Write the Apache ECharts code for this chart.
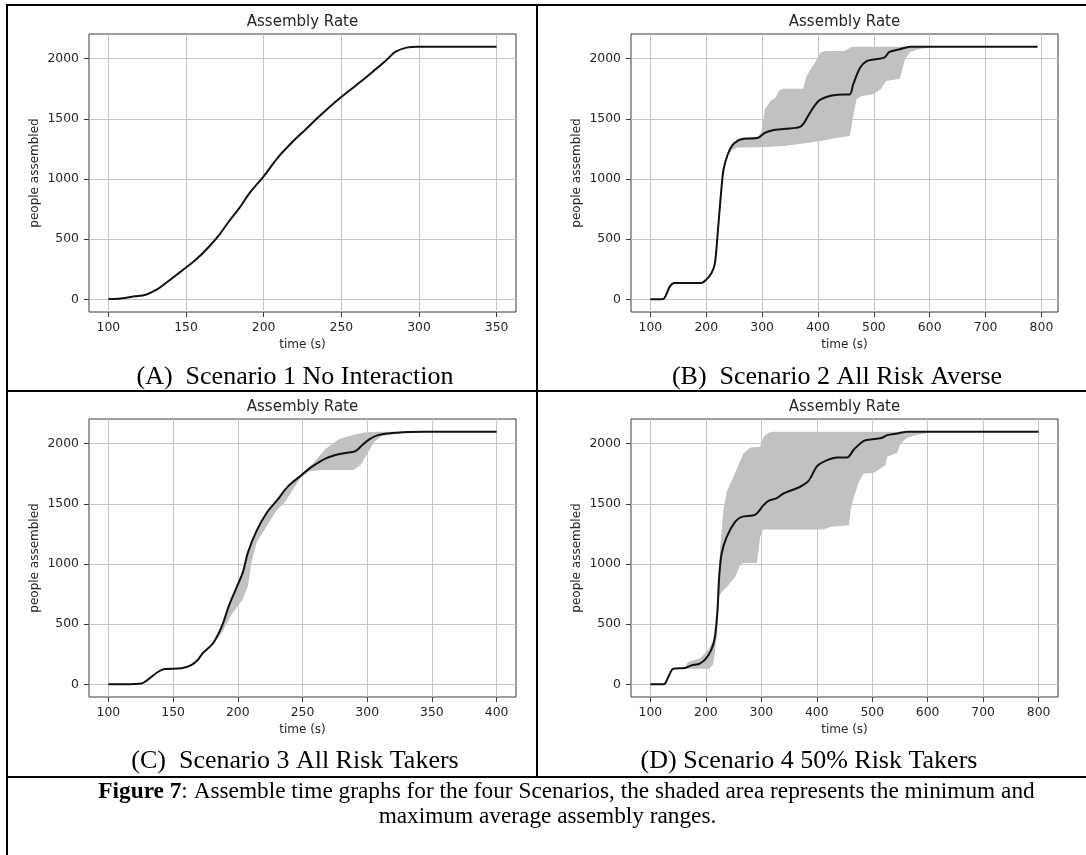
<!DOCTYPE html>
<html>
<head>
<meta charset="utf-8">
<title>Assembly Rate</title>
<script src="https://cdn.jsdelivr.net/npm/echarts@6.0.0/dist/echarts.min.js"></script>
<style>
  html, body { margin: 0; padding: 0; background: #ffffff; }
  #chart { width: 1086px; height: 855px; }
</style>
</head>
<body>
<div id="chart"></div>
<script>
// ---- tick labels ----
const ticksA = [100, 150, 200, 250, 300, 350];
const ticksB = [100, 200, 300, 400, 500, 600, 700, 800];
const ticksC = [100, 150, 200, 250, 300, 350, 400];
const ticksD = [100, 200, 300, 400, 500, 600, 700, 800];
const ticksY = [0, 500, 1000, 1500, 2000];

// ---- Scenario 1: No Interaction (time s, people assembled) ----
const meanA = [[100,3],[108,8],[117,25],[124,39],[131,80],[137,136],[144,205],[151,275],[157.5,344],[164,427],[171,530],[177.7,649],[184.4,760],[191,885],[200.5,1030],[209,1176],[218,1301],[227,1412],[236,1523],[245,1628],[254,1723],[263,1814],[272,1911],[278.4,1981],[285,2058],[292,2092],[299,2100],[350,2100]];

// ---- Scenario 2: All Risk Averse ----
const meanB = [[100,0],[123,3],[127,25],[135,108],[143,136],[191,136],[200,164],[209.5,219],[215.6,302],[220.6,552],[226,857],[231,1079],[238.5,1204],[246.6,1279],[257,1320],[268,1334],[293,1343],[305,1384],[318,1404],[342,1417],[367,1431],[374.6,1462],[385.7,1551],[401,1648],[416.6,1684],[435,1700],[456.8,1703],[463,1786],[475.4,1925],[487.8,1981],[500,1994],[518.7,2008],[528,2056],[546.5,2078],[565,2100],[793,2100]];
const upperB = [[100,0],[123,3],[127,25],[135,108],[143,136],[191,136],[200,164],[209.5,219],[215.6,302],[220.6,552],[226,857],[231,1079],[238.5,1210],[246.6,1295],[256,1335],[270,1350],[293,1351],[299,1398],[305,1578],[314.6,1648],[324,1676],[330,1731],[336,1750],[373.4,1750],[379.5,1856],[388.8,1925],[398,1994],[404.3,2050],[413.5,2064],[447.5,2064],[460,2097],[470,2100],[793,2100]];
const lowerB = [[100,0],[123,3],[127,25],[135,108],[143,136],[191,136],[200,164],[209.5,219],[215.6,302],[220.6,552],[226,857],[231,1079],[238.5,1195],[246.6,1245],[256,1262],[300,1265],[340,1275],[373,1295],[404,1315],[435,1343],[456.8,1358],[463,1523],[469,1662],[478.5,1690],[497,1703],[512.5,1745],[522,1814],[546.5,1834],[555.8,1995],[565,2056],[583.6,2083],[608.4,2097],[620,2100],[793,2100]];

// ---- Scenario 3: All Risk Takers ----
const meanC = [[100,0],[125.6,8],[130.8,42],[138.5,105],[143.6,127],[156.4,133],[164,160],[169,202],[173,261],[181,344],[187.7,483],[193,650],[198.4,789],[203.8,928],[207.8,1095],[214.5,1275],[222.5,1428],[230.6,1533],[238.6,1643],[249.3,1740],[257.4,1809],[268.1,1878],[278.8,1914],[289.5,1933],[292.2,1947],[296.2,1989],[301.6,2036],[308.3,2071],[316.4,2085],[332.4,2096],[345,2100],[400,2100]];
const upperC = [[100,0],[125.6,8],[130.8,42],[138.5,105],[143.6,127],[156.4,133],[164,160],[169,202],[173,261],[181,344],[187.7,483],[193,650],[198.4,789],[203.8,928],[207.8,1095],[214.5,1275],[222.5,1428],[230.6,1533],[238.6,1643],[249.3,1745],[257.4,1830],[268.1,1960],[278.8,2040],[289.5,2075],[297.6,2092],[310,2100],[400,2100]];
const lowerC = [[100,0],[125.6,8],[130.8,42],[138.5,105],[143.6,127],[156.4,133],[164,160],[169,202],[173,255],[181,330],[187.7,428],[194.4,567],[203.8,706],[207.8,817],[210.5,1011],[214.5,1178],[222.5,1317],[230.6,1456],[235.9,1505],[244,1643],[249.3,1726],[254.7,1768],[262.7,1781],[289.5,1781],[294.9,1823],[300.3,1920],[305.6,2016],[311,2063],[324.4,2085],[337.8,2094],[350,2100],[400,2100]];

// ---- Scenario 4: 50% Risk Takers ----
const meanD = [[100,0],[120,0],[126,5],[135,89],[141,130],[162,136],[174,158],[189,172],[200,214],[210,288],[216.5,394],[221,616],[224,893],[228.5,1087],[237.6,1226],[252.7,1350],[264.8,1392],[289,1411],[304,1489],[313,1525],[327,1545],[340,1586],[370,1642],[385.5,1692],[400.6,1813],[418.7,1863],[436.8,1886],[454.9,1886],[467,1952],[485,2024],[503,2038],[518,2049],[527,2071],[545,2085],[563.6,2100],[800,2100]];
const upperD = [[100,0],[120,0],[126,5],[135,89],[141,130],[162,140],[168,186],[189,214],[204,283],[213,366],[219.5,616],[225.5,1115],[231.6,1448],[237.6,1600],[249.7,1725],[258.8,1822],[267.8,1919],[280,1969],[298,1974],[304,2058],[313,2091],[322,2100],[800,2100]];
const lowerD = [[100,0],[120,0],[126,5],[135,89],[141,128],[171,130],[207,130],[213.5,172],[219.5,394],[224,727],[228.6,768],[237.6,810],[252.7,893],[261.8,990],[266.6,1009],[292,1009],[298,1226],[303,1287],[412.7,1287],[424.7,1309],[458,1323],[461,1448],[467,1559],[476,1683],[485,1753],[503,1758],[512,1786],[524,1822],[527,1891],[545,1924],[550,1988],[560.6,2044],[570,2058],[588,2080],[600,2091],[610,2100],[800,2100]];

// ---- text ----
const plotTitle = 'Assembly Rate';
const xName = 'time (s)';
const yName = 'people assembled';
const captions = ['(A)\u00a0 Scenario 1 No Interaction', '(B)\u00a0 Scenario 2 All Risk Averse', '(C)\u00a0 Scenario 3 All Risk Takers', '(D) Scenario 4 50% Risk Takers'];
const figLabel = 'Figure 7';
const figText1 = ': Assemble time graphs for the four Scenarios, the shaded area represents the minimum and';
const figText2 = 'maximum average assembly ranges.';

// panel layout: plot rectangles in pixels, x extents padded like the plotting tool
const panels = [
  { left: 89,  top: 34,  xMin: 87.5,  xMax: 362.5,  ticks: ticksA, mean: meanA, upper: null,   lower: null,   capX: 295, capY: 377 },
  { left: 631, top: 34,  xMin: 65.35, xMax: 829.65, ticks: ticksB, mean: meanB, upper: upperB, lower: lowerB, capX: 837, capY: 377 },
  { left: 89,  top: 419, xMin: 85,    xMax: 415,    ticks: ticksC, mean: meanC, upper: upperC, lower: lowerC, capX: 295, capY: 761 },
  { left: 631, top: 419, xMin: 65,    xMax: 835,    ticks: ticksD, mean: meanD, upper: upperD, lower: lowerD, capX: 809, capY: 761 }
];
const PW = 427, PH = 278;
const Y_MIN = -105, Y_MAX = 2205;

const tickFont = 'DejaVu Sans';
const inkColor = '#262626';
const plainNumber = function (v) { return String(v); };

const grids = [], xAxes = [], yAxes = [], series = [], graphics = [];

panels.forEach(function (p, i) {
  grids.push({
    left: p.left, top: p.top, width: PW, height: PH,
    show: true, borderColor: '#3a3a3a', borderWidth: 1, backgroundColor: 'transparent',
    containLabel: false
  });
  xAxes.push({
    type: 'value', gridIndex: i, min: p.xMin, max: p.xMax,
    axisLine: { show: false, onZero: false },
    axisTick: { show: true, length: 5, customValues: p.ticks, lineStyle: { color: '#3a3a3a', width: 1 } },
    axisLabel: { customValues: p.ticks, formatter: plainNumber, margin: 10, fontSize: 12.4, fontFamily: tickFont, color: inkColor },
    splitLine: { show: true, lineStyle: { color: '#c6c6c6', width: 1 } }
  });
  yAxes.push({
    type: 'value', gridIndex: i, min: Y_MIN, max: Y_MAX,
    axisLine: { show: false, onZero: false },
    axisTick: { show: true, length: 5, customValues: ticksY, lineStyle: { color: '#3a3a3a', width: 1 } },
    axisLabel: { customValues: ticksY, formatter: plainNumber, margin: 10, fontSize: 12.4, fontFamily: tickFont, color: inkColor },
    splitLine: { show: true, lineStyle: { color: '#c6c6c6', width: 1 } }
  });

  if (p.upper && p.lower) {
    const up = p.upper, lo = p.lower;
    series.push({
      type: 'custom', xAxisIndex: i, yAxisIndex: i, silent: true, z: 2, clip: true,
      data: [[up[0][0], up[0][1]]],
      renderItem: function (params, api) {
        const pts = up.map(function (d) { return api.coord(d); })
          .concat(lo.slice().reverse().map(function (d) { return api.coord(d); }));
        return { type: 'polygon', shape: { points: pts }, style: { fill: '#c1c1c1', stroke: null } };
      }
    });
  }
  series.push({
    type: 'line', xAxisIndex: i, yAxisIndex: i, data: p.mean,
    showSymbol: false, smooth: 0.3, silent: true, z: 3,
    lineStyle: { color: '#111111', width: 2 }
  });

  const cx = p.left + PW / 2, cy = p.top + PH / 2;
  graphics.push({ type: 'text', x: cx, y: p.top - 12, silent: true,
    style: { text: plotTitle, font: '15px "DejaVu Sans"', fill: inkColor, align: 'center', verticalAlign: 'middle', textAlign: 'center', textVerticalAlign: 'middle' } });
  graphics.push({ type: 'text', x: cx, y: p.top + PH + 33, silent: true,
    style: { text: xName, font: '12px "DejaVu Sans"', fill: inkColor, align: 'center', verticalAlign: 'middle', textAlign: 'center', textVerticalAlign: 'middle' } });
  graphics.push({ type: 'text', x: p.left - 54.5, y: cy, rotation: Math.PI / 2, silent: true,
    style: { text: yName, font: '12px "DejaVu Sans"', fill: inkColor, align: 'center', verticalAlign: 'middle', textAlign: 'center', textVerticalAlign: 'middle' } });
  graphics.push({ type: 'text', x: p.capX, y: p.capY, silent: true,
    style: { text: captions[i], font: '26px "Liberation Serif"', fill: '#000', align: 'center', verticalAlign: 'middle', textAlign: 'center', textVerticalAlign: 'middle' } });
});

// table rules around the figure panels
function rule(x1, y1, x2, y2) {
  return { type: 'line', silent: true, shape: { x1: x1, y1: y1, x2: x2, y2: y2 }, style: { stroke: '#000', lineWidth: 2 } };
}
graphics.push(rule(7, 5, 1086, 5));
graphics.push(rule(7, 391, 1086, 391));
graphics.push(rule(7, 777, 1086, 777));
graphics.push(rule(7, 4, 7, 855));
graphics.push(rule(537, 4, 537, 777));

// figure caption
graphics.push({ type: 'text', x: 566.5, y: 792, silent: true,
  style: {
    text: '{b|' + figLabel + '}' + figText1,
    font: '23.3px "Liberation Serif"', fill: '#000', align: 'center', verticalAlign: 'middle', textAlign: 'center', textVerticalAlign: 'middle',
    rich: { b: { fontWeight: 'bold', fontSize: 23.3, fontFamily: 'Liberation Serif' } }
  } });
graphics.push({ type: 'text', x: 547.5, y: 817, silent: true,
  style: { text: figText2, font: '23.3px "Liberation Serif"', fill: '#000', align: 'center', verticalAlign: 'middle', textAlign: 'center', textVerticalAlign: 'middle' } });

const chart = echarts.init(document.getElementById('chart'), null, { renderer: 'canvas' });
chart.setOption({
  animation: false,
  backgroundColor: '#ffffff',
  grid: grids,
  xAxis: xAxes,
  yAxis: yAxes,
  series: series,
  graphic: graphics
});
</script>
</body>
</html>
